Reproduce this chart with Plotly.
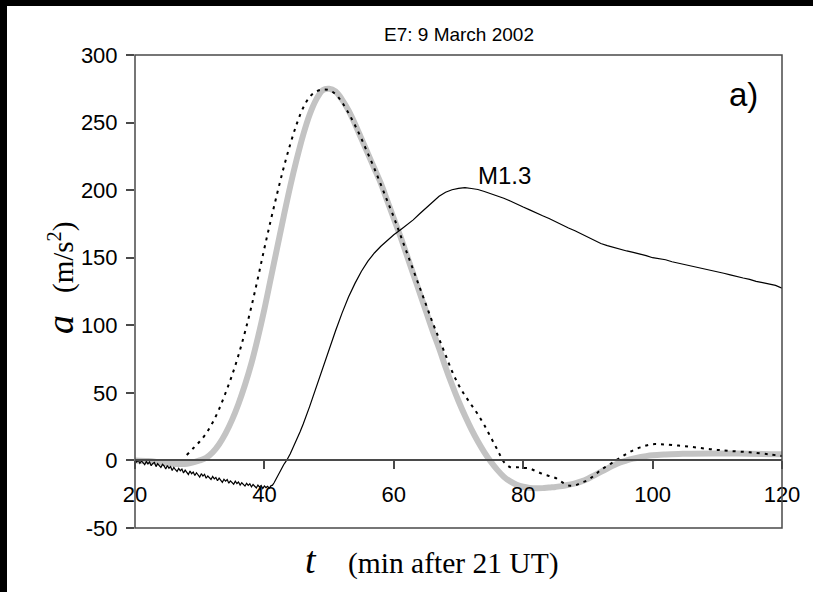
import plotly.graph_objects as go

# ---- data ----
fit_t = [20, 22, 24, 26, 28, 30, 31, 32, 33, 34, 35, 36, 37, 38, 39, 40, 41, 42, 43, 44, 45, 46, 47, 48, 49, 50,
         51, 52, 53, 54, 55, 56, 57, 58, 59, 60, 61, 62, 63, 64, 65, 66, 67, 68, 69, 70, 71, 72, 73, 74, 75, 76,
         77, 78, 79, 80, 81, 82, 83, 84, 85, 86, 87, 88, 89, 90, 91, 92, 93, 94, 95, 96, 97, 98, 99, 100, 102,
         104, 106, 110, 115, 120]
fit_a = [0, -0.5, -1.5, -2.5, -2.5, 0, 2, 6, 12, 20, 30, 42, 56, 72, 91, 112, 135, 158, 181, 203, 223, 241, 256,
         267, 274, 275, 273, 267, 259, 249, 238, 227, 216, 205, 192, 179, 166, 152, 138, 124, 110, 96, 83, 69, 56,
         44, 33, 23, 14, 6, -1, -7, -12, -15.5, -18, -19.5, -20.3, -20.6, -20.5, -20, -19.6, -19, -18, -17, -15.5,
         -13.5, -11, -8.5, -6, -3.5, -1.5, 0, 1.3, 2.4, 3.2, 3.8, 4.4, 4.8, 5, 5.1, 5, 4.5]

obs_t = [28, 29, 30, 31, 32, 33, 34, 35, 36, 37, 38, 39, 40, 41, 42, 43, 44, 45, 46, 47, 48, 49, 50, 51, 52, 53,
         54, 55, 56, 57, 58, 59, 60, 61, 62, 63, 64, 65, 66, 67, 68, 69, 70, 71, 72, 73, 74, 75, 76, 77, 78, 79,
         80, 81, 82, 83, 84, 85, 86, 87, 88, 89, 90, 91, 92, 93, 94, 95, 96, 97, 98, 99, 100, 101, 102, 104, 106,
         108, 110, 112, 115, 118, 120]
obs_a = [4, 9, 14, 20, 28, 38, 50, 63, 78, 95, 114, 135, 157, 178, 198, 217, 234, 249, 261, 269, 273, 274.5,
         274, 271, 265, 257, 248, 238, 227, 216, 204, 192, 180, 167, 154, 141, 128, 115, 102, 90, 78, 66, 56, 48,
         41, 34, 26, 17, 8, -1, -5, -5, -5.5, -6, -8, -10, -11.5, -13, -16, -18.5, -18.5, -16.5, -14.5, -11, -7,
         -4, -1, 2, 5, 7.5, 9.5, 11, 12, 12, 11.8, 11, 10, 8.8, 7.8, 7, 6, 4.5, 3.3]

flare_t = [20.0, 20.25, 20.5, 20.75, 21.0, 21.25, 21.5, 21.75, 22.0, 22.25, 22.5, 22.75, 23.0, 23.25, 23.5, 23.75,
           24.0, 24.25, 24.5, 24.75, 25.0, 25.25, 25.5, 25.75, 26.0, 26.25, 26.5, 26.75, 27.0, 27.25, 27.5, 27.75,
           28.0, 28.25, 28.5, 28.75, 29.0, 29.25, 29.5, 29.75, 30.0, 30.25, 30.5, 30.75, 31.0, 31.25, 31.5, 31.75,
           32.0, 32.25, 32.5, 32.75, 33.0, 33.25, 33.5, 33.75, 34.0, 34.25, 34.5, 34.75, 35.0, 35.25, 35.5, 35.75,
           36.0, 36.25, 36.5, 36.75, 37.0, 37.25, 37.5, 37.75, 38.0, 38.25, 38.5, 38.75, 39.0, 39.25, 39.5, 39.75,
           40.0, 40.25, 40.5, 40.75, 41.0, 41.25, 41.5, 41.75, 42.0, 42.25, 42.5, 42.75, 43.0, 43.25, 43.5,
           44.0, 44.5, 45.0, 45.5, 46.0, 46.5, 47.0, 47.5, 48.0, 48.5, 49.0, 49.5,
           50, 51, 52, 53, 54, 55, 56, 57, 58, 59, 60, 61, 62, 63, 64, 65, 66, 67, 68, 69, 70, 71, 72, 73, 74, 75,
           76, 77, 78, 79, 80, 81, 82, 83, 84, 85, 86, 87, 88, 89, 90, 91, 92, 93, 94, 95, 96, 97, 98, 99, 100,
           101, 102, 103, 104, 105, 106, 107, 108, 109, 110, 111, 112, 113, 114, 115, 116, 117, 118, 119, 120]
flare_a = [0.0, -1.2, 0.3, -2.1, -0.4, -1.9, -3.2, -0.8, -2.6, -1.1, -3.9, -2.2, -1.5, -4.6, -2.4, -3.8,
           -5.2, -2.9, -4.1, -6.3, -3.7, -5.8, -4.6, -7.4, -5.1, -6.9, -8.2, -5.9, -7.6, -6.4, -9.3, -7.2,
           -8.5, -10.4, -7.9, -9.8, -8.6, -11.2, -9.1, -10.7, -12.3, -9.8, -11.6, -10.3, -13.2, -11.5, -12.8, -14.1,
           -11.9, -13.7, -12.6, -15.0, -13.1, -14.8, -16.2, -13.9, -15.3, -14.2, -16.8, -15.1, -16.4, -17.6, -15.4,
           -17.1, -16.0, -18.3, -16.5, -17.7, -19.0, -16.9, -18.5, -17.3, -19.6, -17.8, -19.1, -20.4, -18.2, -19.7,
           -18.6, -20.8, -18.9, -20.1, -19.2, -20.6, -18.8, -18.3, -16.5, -14.2, -11.5, -9.0, -7.0, -5.0, -3.0,
           -1.2, 0.5,
           5, 10, 15.5, 21, 27, 33, 40, 47, 54, 61, 68, 75.5,
           83, 96, 109, 121, 131, 140, 147.5, 153.5, 158.5, 163, 167, 170.5, 174, 178, 182.5, 187, 191.5, 195.5,
           198.5, 200.3, 201.3, 201.8, 201.2, 200.5, 199, 197.5, 196, 194, 192, 189.5, 187.5, 185.4, 183, 181, 179,
           176.5, 174.5, 172, 170, 167.5, 165, 162.5, 160.5, 159, 157.5, 156, 155, 154, 153, 151.5, 150, 149.5,
           148.5, 147, 146, 145, 144, 143, 141.5, 140.5, 139.5, 138.5, 137.3, 136, 135, 134, 132.5, 131.6, 130.5,
           129.5, 127.5]

x_ticks = [20, 40, 60, 80, 100, 120]
y_ticks = [-50, 0, 50, 100, 150, 200, 250, 300]

# ---- layout geometry (pixels) ----
W, H = 813, 592
L, R, T, B = 135, 31, 55, 64
PW, PH = W - L - R, H - T - B


def px(x):
    return (x - L) / PW


def py(y):
    return (H - B - y) / PH


AXC = "#4a4a4a"
SANS = "Liberation Sans, Arial, Helvetica, sans-serif"
SERIF = "Liberation Serif, Times New Roman, serif"

fig = go.Figure()
fig.add_trace(go.Scatter(x=fit_t, y=fit_a, mode="lines", line=dict(color="#c3c3c3", width=6, shape="spline"),
                         hoverinfo="skip", showlegend=False))
fig.add_trace(go.Scatter(x=obs_t, y=obs_a, mode="lines",
                         line=dict(color="black", width=2, dash="3px,5px", shape="spline"),
                         hoverinfo="skip", showlegend=False))
fig.add_trace(go.Scatter(x=flare_t, y=flare_a, mode="lines", line=dict(color="black", width=1.2),
                         hoverinfo="skip", showlegend=False))

yr = [-50, 300]
fig.update_layout(
    width=W, height=H,
    margin=dict(l=L, r=R, t=T, b=B, pad=0),
    paper_bgcolor="white", plot_bgcolor="white",
    font=dict(family=SANS, color="black"),
    xaxis=dict(range=[20, 120], tickvals=x_ticks, ticktext=[str(v) for v in x_ticks],
               showgrid=False, zeroline=False, showline=True, linecolor=AXC, linewidth=1.5,
               ticks="outside", ticklen=8, tickwidth=1.5, tickcolor=AXC,
               anchor="free", position=(0 - yr[0]) / (yr[1] - yr[0]),
               tickfont=dict(size=22, family=SANS), ticklabelstandoff=6),
    yaxis=dict(range=yr, tickvals=y_ticks, ticktext=[str(v) for v in y_ticks],
               showgrid=False, zeroline=False, showline=False,
               ticks="outside", ticklen=8, tickwidth=1.5, tickcolor=AXC,
               tickfont=dict(size=22, family=SANS), ticklabelstandoff=4),
    shapes=[
        dict(type="rect", xref="paper", yref="paper", x0=px(-5), x1=px(7), y0=py(H + 5), y1=py(-5),
             fillcolor="black", line=dict(width=0), layer="above"),
        dict(type="rect", xref="paper", yref="paper", x0=px(-5), x1=px(W + 5), y0=py(6), y1=py(-5),
             fillcolor="black", line=dict(width=0), layer="above"),
        dict(type="rect", xref="paper", yref="paper", x0=0, x1=1, y0=0, y1=1,
             line=dict(color=AXC, width=1.5), layer="above"),
    ],
    annotations=[
        dict(text="E7: 9 March 2002", xref="paper", yref="paper", x=px(459), y=py(35), showarrow=False,
             font=dict(size=19, family=SANS), xanchor="center", yanchor="middle"),
        dict(text="a)", xref="paper", yref="paper", x=px(743), y=py(94), showarrow=False,
             font=dict(size=33, family=SANS), xanchor="center", yanchor="middle"),
        dict(text="M1.3", xref="paper", yref="paper", x=px(504), y=py(175), showarrow=False,
             font=dict(size=24, family=SANS), xanchor="center", yanchor="middle"),
        dict(text="<i>a</i>", xref="paper", yref="paper", x=px(60), y=py(325), showarrow=False,
             textangle=-90, font=dict(size=38, family=SERIF), xanchor="center", yanchor="middle"),
        dict(text="(m/s<sup>2</sup>)", xref="paper", yref="paper", x=px(61), y=py(258), showarrow=False,
             textangle=-90, font=dict(size=29, family=SERIF), xanchor="center", yanchor="middle"),
        dict(text="<i>t</i>", xref="paper", yref="paper", x=px(311), y=py(560), showarrow=False,
             font=dict(size=38, family=SERIF), xanchor="center", yanchor="middle"),
        dict(text="(min after 21 UT)", xref="paper", yref="paper", x=px(453), y=py(563), showarrow=False,
             font=dict(size=29.5, family=SERIF), xanchor="center", yanchor="middle"),
    ],
)

fig.write_html(
    "out.html",
    post_script="document.documentElement.style.overflow='hidden';"
                "document.body.style.overflow='hidden';document.body.style.margin='0';"
                "document.body.style.background='white';",
)
